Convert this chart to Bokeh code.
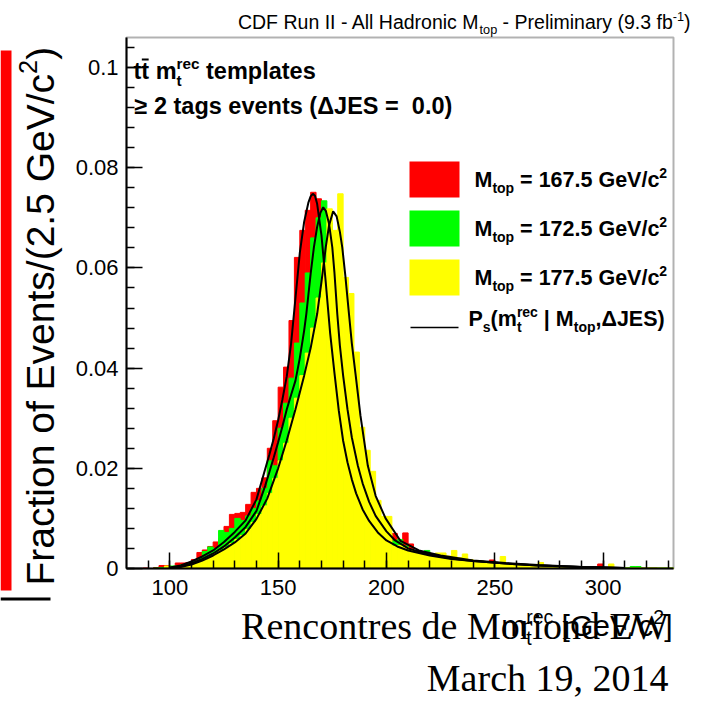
import math
from bokeh.plotting import figure
from bokeh.models import (Range1d, FixedTicker, PrintfTickFormatter, Label,
                          BoxAnnotation)
from bokeh.embed import file_html
from bokeh.resources import INLINE

# ---------------- data ----------------
bin_low = 80.0          # first bin edge [GeV/c^2]
bin_width = 2.5         # bin width [GeV/c^2]

# template histograms, fraction of events per 2.5 GeV/c^2 bin (101 bins, 80 -> 332.5)
red_hist = [
    0, 0, 0, 0.0001, 0, 0.0002, 0.0006, 0.0006, 0.0003, 0.0011,
    0.0011, 0.0012, 0.0018, 0.0032, 0.0037, 0.0044, 0.0053, 0.0060, 0.0084, 0.0108,
    0.0110, 0.0112, 0.0128, 0.0152, 0.0160, 0.0181, 0.0240, 0.0295, 0.0362, 0.0402,
    0.0495, 0.0621, 0.0675, 0.0715, 0.0751, 0.0738, 0.0660, 0.0510, 0.0380, 0.0290,
    0.0220, 0.0180, 0.0150, 0.0120, 0.0100, 0.0085, 0.0072, 0.0060, 0.0052, 0.0070,
    0.0052, 0.0071, 0.0049, 0.0035, 0.0030, 0.0030, 0.0026, 0.0024, 0.0022, 0.0020,
    0.0019, 0.0017, 0.0016, 0.0015, 0.0014, 0.0013, 0.0012, 0.0017, 0.0011, 0.0009,
    0.0009, 0.0008, 0.0009, 0.0007, 0.0007, 0.0006, 0.0005, 0.0005, 0.0004, 0.0004,
    0.0003, 0.0003, 0.0003, 0.0002, 0.0002, 0.0002, 0.0003, 0.0009, 0.0002, 0.0001,
    0.0001, 0.0001, 0.0001, 0.0001, 0.0001, 0.0001, 0.0001, 0.0001, 0, 0,
    0,
]
green_hist = [
    0, 0, 0, 0, 0, 0.0001, 0.0002, 0.0003, 0.0005, 0.0005,
    0.0008, 0.0010, 0.0014, 0.0020, 0.0034, 0.0043, 0.0040, 0.0076, 0.0072, 0.0080,
    0.0100, 0.0096, 0.0105, 0.0120, 0.0135, 0.0160, 0.0215, 0.0205, 0.0280, 0.0330,
    0.0380, 0.0450, 0.0530, 0.0590, 0.0660, 0.0700, 0.0734, 0.0690, 0.0590, 0.0450,
    0.0360, 0.0270, 0.0210, 0.0170, 0.0140, 0.0115, 0.0095, 0.0080, 0.0068, 0.0055,
    0.0058, 0.0045, 0.0038, 0.0033, 0.0030, 0.0036, 0.0026, 0.0024, 0.0022, 0.0020,
    0.0018, 0.0012, 0.0016, 0.0014, 0.0013, 0.0012, 0.0011, 0.0010, 0.0010, 0.0009,
    0.0008, 0.0008, 0.0007, 0.0007, 0.0006, 0.0005, 0.0005, 0.0004, 0.0004, 0.0004,
    0.0003, 0.0004, 0.0003, 0.0002, 0.0002, 0.0002, 0.0002, 0.0002, 0.0002, 0.0001,
    0.0001, 0.0001, 0.0002, 0.0004, 0.0004, 0.0001, 0.0001, 0.0001, 0.0001, 0.0001,
    0.0001,
]
yellow_hist = [
    0, 0, 0, 0, 0, 0, 0, 0.0005, 0.0003, 0.0004,
    0.0005, 0.0008, 0.0012, 0.0015, 0.0019, 0.0024, 0.0030, 0.0036, 0.0042, 0.0050,
    0.0058, 0.0066, 0.0078, 0.0092, 0.0108, 0.0125, 0.0150, 0.0180, 0.0215, 0.0250,
    0.0300, 0.0340, 0.0385, 0.0430, 0.0480, 0.0540, 0.0610, 0.0718, 0.0675, 0.0748,
    0.0581, 0.0549, 0.0432, 0.0282, 0.0236, 0.0194, 0.0136, 0.0104, 0.0104, 0.0045,
    0.0046, 0.0042, 0.0038, 0.0032, 0.0030, 0.0028, 0.0027, 0.0031, 0.0031, 0.0025,
    0.0036, 0.0022, 0.0029, 0.0018, 0.0016, 0.0015, 0.0013, 0.0012, 0.0011, 0.0024,
    0.0010, 0.0009, 0.0008, 0.0008, 0.0007, 0.0006, 0.0012, 0.0005, 0.0004, 0.0004,
    0.0004, 0.0004, 0.0003, 0.0003, 0.0003, 0.0002, 0.0002, 0.0002, 0.0002, 0.0009,
    0.0001, 0.0001, 0.0001, 0.0001, 0.0001, 0.0001, 0.0001, 0.0001, 0.0001, 0.0001,
    0.0001,
]

# fitted signal p.d.f. curves P_s(m_t^rec | M_top, dJES)
fit_red_x = [100, 105, 110, 115, 120, 125, 130, 135, 140, 144, 146, 148, 150, 152, 154, 156,
             158, 160, 162, 164, 165, 166, 167, 168, 170, 172, 174, 176, 178, 180, 182, 184,
             186, 189, 192, 196, 200, 205, 210, 220, 230, 240, 255, 270, 290, 310]
fit_red_y = [0.0002, 0.0006, 0.0014, 0.0024, 0.0036, 0.0053, 0.0073, 0.0096, 0.0138, 0.0198,
             0.0228, 0.0260, 0.0296, 0.0338, 0.0384, 0.0450, 0.0540, 0.0630, 0.0692, 0.0731,
             0.0743, 0.0748, 0.0744, 0.0728, 0.0665, 0.0570, 0.0470, 0.0390, 0.0315, 0.0255,
             0.0212, 0.0178, 0.0150, 0.0118, 0.0095, 0.0072, 0.0056, 0.0044, 0.0036, 0.0026,
             0.0019, 0.0015, 0.0010, 0.0006, 0.0003, 0.0001]
fit_green_x = [100, 105, 110, 115, 120, 125, 130, 135, 140, 144, 146, 148, 150, 152, 154, 156,
               158, 160, 162, 163, 164, 165, 166.5, 168, 169.5, 170.8, 172, 173.5, 175, 176,
               177.3, 178.5, 180, 182, 184, 186.8, 189, 192, 195, 200, 204, 210, 220, 230,
               240, 255, 270, 290, 310]
fit_green_y = [0.0001, 0.0004, 0.0010, 0.0019, 0.0030, 0.0044, 0.0062, 0.0083, 0.0115, 0.0165,
               0.0193, 0.0222, 0.0252, 0.0284, 0.0318, 0.0347, 0.0375, 0.0420, 0.0475, 0.0508,
               0.0548, 0.0588, 0.0641, 0.0682, 0.0710, 0.0721, 0.0714, 0.0688, 0.0641, 0.0590,
               0.0508, 0.0445, 0.0385, 0.0318, 0.0262, 0.0205, 0.0170, 0.0133, 0.0105, 0.0074,
               0.0056, 0.0040, 0.0028, 0.0020, 0.0015, 0.0010, 0.0006, 0.0003, 0.0001]
fit_yellow_x = [100, 105, 110, 115, 120, 125, 130, 135, 140, 145, 150, 154, 158, 162, 165, 168,
                170, 172, 173.5, 175.4, 177, 178.5, 179.6, 181, 182.7, 184, 185.7, 188, 191.4,
                195, 199.6, 206.5, 215, 225, 240, 255, 270, 290, 310]
fit_yellow_y = [0.0001, 0.0003, 0.0008, 0.0016, 0.0026, 0.0038, 0.0052, 0.0070, 0.0099, 0.0140,
                0.0200, 0.0256, 0.0318, 0.0385, 0.0440, 0.0508, 0.0572, 0.0642, 0.0685, 0.0713,
                0.0703, 0.0672, 0.0641, 0.0585, 0.0508, 0.0450, 0.0389, 0.0305, 0.0205, 0.0145,
                0.0100, 0.0055, 0.0036, 0.0026, 0.0016, 0.0011, 0.0007, 0.0003, 0.0001]

series_colors = ["#ff0000", "#00ff00", "#ffff00"]
series_masses = ["167.5", "172.5", "177.5"]

x_major_ticks = [100, 150, 200, 250, 300]
y_major_ticks = [0, 0.02, 0.04, 0.06, 0.08, 0.1]

# ---------------- geometry ----------------
X_LO, X_HI = 80.0, 332.5          # histogram axis range
Y_LO, Y_HI = 0.0, 0.106
W_TOT, H_TOT = 705, 702
BL, BT, BW, BH = 126, 37, 547, 531  # where the histogram box sits on the page (px)

SX = BW / (X_HI - X_LO)
SY = BH / (Y_HI - Y_LO)
# the Bokeh frame covers the whole page so that texts around the box are not clipped
xr = Range1d(X_LO - BL / SX, X_HI + (W_TOT - BL - BW) / SX)
yr = Range1d(Y_LO - (H_TOT - BT - BH) / SY, Y_HI + BT / SY)

p = figure(frame_width=W_TOT, frame_height=H_TOT, min_border=0,
           x_range=xr, y_range=yr, output_backend="svg", toolbar_location=None)
p.background_fill_color = "white"
p.border_fill_color = "white"
p.grid.visible = False
p.outline_line_color = None


def dx(px):
    return xr.start + px / SX


def dy(py):
    return yr.end - py / SY


# ---------------- histograms ----------------
n_bins = len(red_hist)
lefts = [bin_low + i * bin_width for i in range(n_bins)]
rights = [bin_low + (i + 1) * bin_width for i in range(n_bins)]
for hist, col in zip([red_hist, green_hist, yellow_hist], series_colors):
    p.quad(left=lefts, right=rights, bottom=0, top=hist,
           fill_color=col, line_color=col, line_width=1)

for fx, fy in [(fit_red_x, fit_red_y), (fit_green_x, fit_green_y),
               (fit_yellow_x, fit_yellow_y)]:
    p.line(fx, fy, line_color="black", line_width=2)

# histogram box
p.add_layout(BoxAnnotation(left=X_LO, right=X_HI, bottom=Y_LO, top=Y_HI,
                           fill_color=None, line_color="black", line_width=2))

# ---------------- axes (pinned to the box) ----------------
minor_x = [90 + 10 * i for i in range(25)]
minor_y = [round(0.004 * i, 3) for i in range(27)]
p.xaxis.ticker = FixedTicker(ticks=x_major_ticks, minor_ticks=minor_x)
p.yaxis.ticker = FixedTicker(ticks=y_major_ticks, minor_ticks=minor_y)
p.yaxis.formatter = PrintfTickFormatter(format="%g")
p.xaxis.fixed_location = Y_LO
p.yaxis.fixed_location = X_LO
p.xaxis.bounds = (X_LO, X_HI)
p.yaxis.bounds = (Y_LO, Y_HI)
for ax in (p.xaxis[0], p.yaxis[0]):
    ax.major_tick_in = 16
    ax.major_tick_out = 0
    ax.minor_tick_in = 8
    ax.minor_tick_out = 0
    ax.major_tick_line_width = 1.5
    ax.minor_tick_line_width = 1.5
    ax.axis_line_width = 2
    ax.major_label_text_font = "Liberation Sans"
    ax.major_label_text_font_size = "22px"
    ax.major_label_text_color = "black"
p.yaxis.major_label_standoff = 8
p.xaxis.major_label_standoff = 11

# ---------------- text helpers (Arial / Liberation Sans metrics) ----------------
WR = {' ': 278, '\u00a0': 278, '(': 333, ')': 333, '-': 333, '.': 278, '/': 278, ',': 278,
      '=': 584, '|': 260, '[': 278, ']': 278, 'A': 667, 'C': 722, 'D': 722, 'E': 667,
      'F': 611, 'G': 778, 'H': 722, 'I': 278, 'J': 500, 'M': 833, 'P': 667, 'R': 722,
      'S': 667, 'V': 667, 'W': 944, 'a': 556, 'b': 556, 'c': 500, 'd': 556, 'e': 556,
      'f': 278, 'g': 556, 'h': 556, 'i': 222, 'l': 222, 'm': 833, 'n': 556, 'o': 556,
      'p': 556, 'r': 333, 's': 500, 't': 278, 'u': 556, 'v': 500, 'y': 500,
      '\u0394': 668, '\u2265': 549}
WB = {' ': 278, '\u00a0': 278, '(': 333, ')': 333, '-': 333, '.': 278, '/': 278, ',': 278,
      '=': 584, '|': 280, '[': 333, ']': 333, 'E': 667, 'G': 778, 'J': 556, 'M': 833,
      'P': 667, 'S': 667, 'V': 667, 'a': 556, 'c': 556, 'e': 556, 'g': 611, 'l': 278,
      'm': 889, 'n': 611, 'o': 611, 'p': 611, 'r': 389, 's': 556, 't': 333, 'v': 556,
      '\u0394': 668, '\u2265': 549}

BASE_K = 0.32   # Bokeh draws "alphabetic" labels this fraction of the size too low


def tw(s, size, bold):
    table = WB if bold else WR
    return sum(table.get(c, 556) for c in s) * size / 1000.0


def put(px, py, text, size, bold=False, font="Liberation Sans", angle=0.0,
        align="left"):
    if angle:
        px -= BASE_K * size
    else:
        py -= BASE_K * size
    p.add_layout(Label(x=dx(px), y=dy(py), text=text, text_font=font,
                       text_font_size=f"{size:.1f}px",
                       text_font_style="bold" if bold else "normal",
                       text_baseline="alphabetic", text_align=align, angle=angle,
                       text_color="black"))


def rich(px, py, parts, size, bold=False, right_at=None, vertical=False):
    """Place a text made of normal / sub / super pieces, piece by piece."""
    small = size * 0.65
    items, adv = [], 0.0
    for text, kind in parts:
        if kind == "supsub":
            sup, sub = text
            items.append((sup, small, 0.42 * size, adv))
            items.append((sub, small, -0.28 * size, adv))
            adv += max(tw(sup, small, bold), tw(sub, small, bold))
            continue
        sz = size if kind == "n" else small
        rise = {"n": 0.0, "sub": -0.28 * size, "sup": 0.42 * size}[kind]
        body = text.lstrip(" ")
        lead = tw(text[:len(text) - len(body)], sz, bold)
        items.append((body.replace("  ", " \u00a0"), sz, rise, adv + lead))
        adv += tw(text, sz, bold)
    start = px if right_at is None else right_at - adv
    for text, sz, rise, off in items:
        if not text:
            continue
        if vertical:
            put(px - rise, py - off, text, sz, bold, angle=math.pi / 2)
        else:
            put(start + off, py - rise, text, sz, bold)
    return start, adv


# title
rich(0, 28, [("CDF Run II - All Hadronic M", "n"), ("top", "sub"),
             (" - Preliminary (9.3 fb", "n"), ("-1", "sup"), (")", "n")],
     19.5, right_at=690)
# y-axis title
rich(52, 585, [("Fraction of Events/(2.5 GeV/c", "n"), ("2", "sup"), (")", "n")],
     39, vertical=True)
# x-axis title
rich(0, 635, [("m", "n"), (("rec", "t"), "supsub"), (" [GeV/c", "n"), ("2", "sup"),
              ("]", "n")], 30, right_at=672)

# in-frame texts
T_SIZE = 23.5
rich(133, 78, [("tt", "n"), (" m", "n"), (("rec", "t"), "supsub"), (" templates", "n")],
     T_SIZE, bold=True)
bar_l = 133 + tw("t", T_SIZE, True) + 0.5
bar_r = 133 + tw("tt", T_SIZE, True) - 0.5
p.add_layout(BoxAnnotation(left=dx(bar_l), right=dx(bar_r), top=dy(58), bottom=dy(60),
                           fill_color="black", fill_alpha=1.0, line_color=None))
rich(134, 113, [("\u2265 2 tags events (\u0394JES =  0.0)", "n")], 23.5, bold=True)

# legend
row_tops = [161, 210, 259]
for col, mass, top in zip(series_colors, series_masses, row_tops):
    p.add_layout(BoxAnnotation(left=dx(409), right=dx(459), top=dy(top),
                               bottom=dy(top + 36), fill_color=col, fill_alpha=1.0,
                               line_color=None))
    rich(474, top + 25, [("M", "n"), ("top", "sub"),
                         (f" = {mass} GeV/c", "n"), ("2", "sup")], 21.5, bold=True)
p.add_layout(BoxAnnotation(left=dx(410), right=dx(458), top=dy(326.2), bottom=dy(327.8),
                           fill_color="black", fill_alpha=1.0, line_color=None))
rich(468, 325, [("P", "n"), ("s", "sub"), ("(m", "n"), (("rec", "t"), "supsub"),
                (" | M", "n"), ("top", "sub"), (",\u0394JES)", "n")], 21.5, bold=True)

# slide decorations around the picture
p.add_layout(BoxAnnotation(left=dx(0), right=dx(11), top=dy(50), bottom=dy(590),
                           fill_color="#ff0000", fill_alpha=1.0, line_color=None))
p.add_layout(BoxAnnotation(left=dx(0), right=dx(50), top=dy(597), bottom=dy(600),
                           fill_color="black", fill_alpha=1.0, line_color=None))
put(668, 638, "Rencontres de Moriond EW", 38, font="Liberation Serif", align="right")
put(668, 690, "March 19, 2014", 38, font="Liberation Serif", align="right")

open("out.html", "w").write(file_html(p, INLINE))
